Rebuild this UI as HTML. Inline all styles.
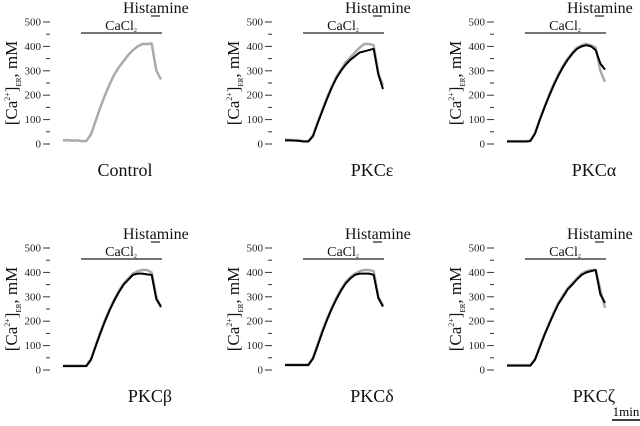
<!DOCTYPE html>
<html><head><meta charset="utf-8">
<style>
body{margin:0;background:#fff;}
svg{display:block;}
svg text{font-family:"Liberation Serif","DejaVu Serif",serif;}
</style></head>
<body>
<svg id="chart" width="640" height="426" viewBox="0 0 640 426"></svg>
<script>
const times = [0,10,20,30,40,50,60,70,80,90,100,110,120,130,140,150,160,170,180,190,200,210];
const yTicks = [0,100,200,300,400,500];
const panelTitles = ["Control","PKC\u03b5","PKC\u03b1","PKC\u03b2","PKC\u03b4","PKC\u03b6"];
const grayControl = [15,16,14,15,12,12,40,95,150,200,245,285,315,340,365,385,400,410,410,412,300,265];
const grayEps =     [18,17,16,15,12,12,35,90,140,190,235,275,305,335,355,375,395,410,410,405,290,240];
const blackEps =    [15,15,14,13,10,10,32,85,135,185,230,270,300,325,345,360,375,380,385,390,285,225];
const grayAlpha =   [12,12,12,12,12,14,45,100,150,200,245,285,320,350,375,395,405,410,405,395,300,255];
const blackAlpha =  [10,10,10,10,10,12,42,97,148,195,240,280,315,345,370,390,400,405,400,385,330,305];
const grayBeta =    [18,18,18,18,18,18,45,100,155,205,250,290,325,355,375,395,405,410,410,400,300,255];
const blackBeta =   [16,16,16,16,16,16,42,97,150,200,245,285,320,350,370,390,395,395,392,390,290,260];
const grayDelta =   [22,22,22,22,22,22,50,105,160,210,255,295,330,360,380,395,405,410,410,405,300,265];
const blackDelta =  [20,20,20,20,20,20,47,100,155,205,250,290,325,355,375,390,395,395,395,390,295,260];
const grayZeta =    [20,20,20,20,20,20,45,95,145,190,235,275,305,335,355,375,395,405,410,410,330,255];
const blackZeta =   [18,18,18,18,18,18,42,92,142,187,230,270,300,330,350,372,390,400,405,410,310,275];
const grayData = [grayControl,grayEps,grayAlpha,grayBeta,grayDelta,grayZeta];
const blackData = [null,blackEps,blackAlpha,blackBeta,blackDelta,blackZeta];

const svg = document.getElementById('chart');
const NS = 'http://www.w3.org/2000/svg';
const SERIF = '"Liberation Serif", "DejaVu Serif", serif';
function mk(tag, attrs, parent){const e=document.createElementNS(NS,tag);for(const k in attrs)e.setAttribute(k,attrs[k]);if(tag==='text'&&!attrs['font-family'])e.setAttribute('font-family',SERIF);(parent||svg).appendChild(e);return e;}
const colOff=[0,222,444], rowOff=[0,226];
const pxPerSec = 28/60;

for(let p=0;p<6;p++){
  const ox=colOff[p%3], oy=rowOff[Math.floor(p/3)];
  const g=mk('g',{transform:`translate(${ox},${oy})`});
  
  
  const yS=v=>144-v*0.244;
  const xS=t=>63+t*pxPerSec;
  yTicks.forEach((v,i)=>{
    const l=mk('line',{x1:43,x2:50,y1:yS(v),y2:yS(v),stroke:'#333','stroke-width':1},g);
    
    
    const t=mk('text',{x:41,y:yS(v)+3.5,'font-size':11,'text-anchor':'end',fill:'#222'},g);
    t.textContent=v;
    
    
    if(i<yTicks.length-1){
      const m=mk('line',{x1:46,x2:50,y1:yS(v+50),y2:yS(v+50),stroke:'#333','stroke-width':1},g);
      
      
    }
  });
  const yt=mk('text',{transform:'translate(17,83) rotate(-90)','font-size':17,'text-anchor':'middle',fill:'#111'},g);
  yt.innerHTML='[Ca<tspan font-size="8" dy="-7">2+</tspan><tspan dy="7">]</tspan><tspan font-size="7" dy="4">ER</tspan><tspan dy="-4">, mM</tspan>';
  
  
  const cb=mk('line',{x1:81,x2:162,y1:33,y2:33,stroke:'#222','stroke-width':1.2},g);
  
  
  const ct=mk('text',{x:121,y:30,'font-size':14,'text-anchor':'middle',fill:'#111'},g);
  ct.innerHTML='CaCl<tspan font-size="6" dy="2">2</tspan>';
  
  
  const ht=mk('text',{x:123,y:13,'font-size':16,fill:'#111'},g);
  ht.textContent='Histamine';
  
  
  const hb=mk('line',{x1:151,x2:160,y1:16,y2:16,stroke:'#222','stroke-width':1.2},g);
  
  
  const gp=mk('polyline',{points:times.map((t,i)=>xS(t)+','+yS(grayData[p][i])).join(' '),fill:'none',stroke:'#aaa','stroke-width':2.5,'stroke-linejoin':'round'},g);
  
  
  if(blackData[p]){
    const bp=mk('polyline',{points:times.map((t,i)=>xS(t)+','+yS(blackData[p][i])).join(' '),fill:'none',stroke:'#000','stroke-width':2,'stroke-linejoin':'round'},g);
    
    
  }
  const pt=mk('text',{x:p===0?125:150,y:176,'font-size':18,'text-anchor':'middle',fill:'#111'},g);
  pt.textContent=panelTitles[p];
  
  
}
const sb=mk('line',{x1:612,x2:640,y1:420,y2:420,stroke:'#000','stroke-width':1.5});


const st=mk('text',{x:626,y:416,'font-size':13,'text-anchor':'middle','font-family':'"Liberation Sans", sans-serif',fill:'#000'});
st.textContent='1min';


</script>
</body></html>
